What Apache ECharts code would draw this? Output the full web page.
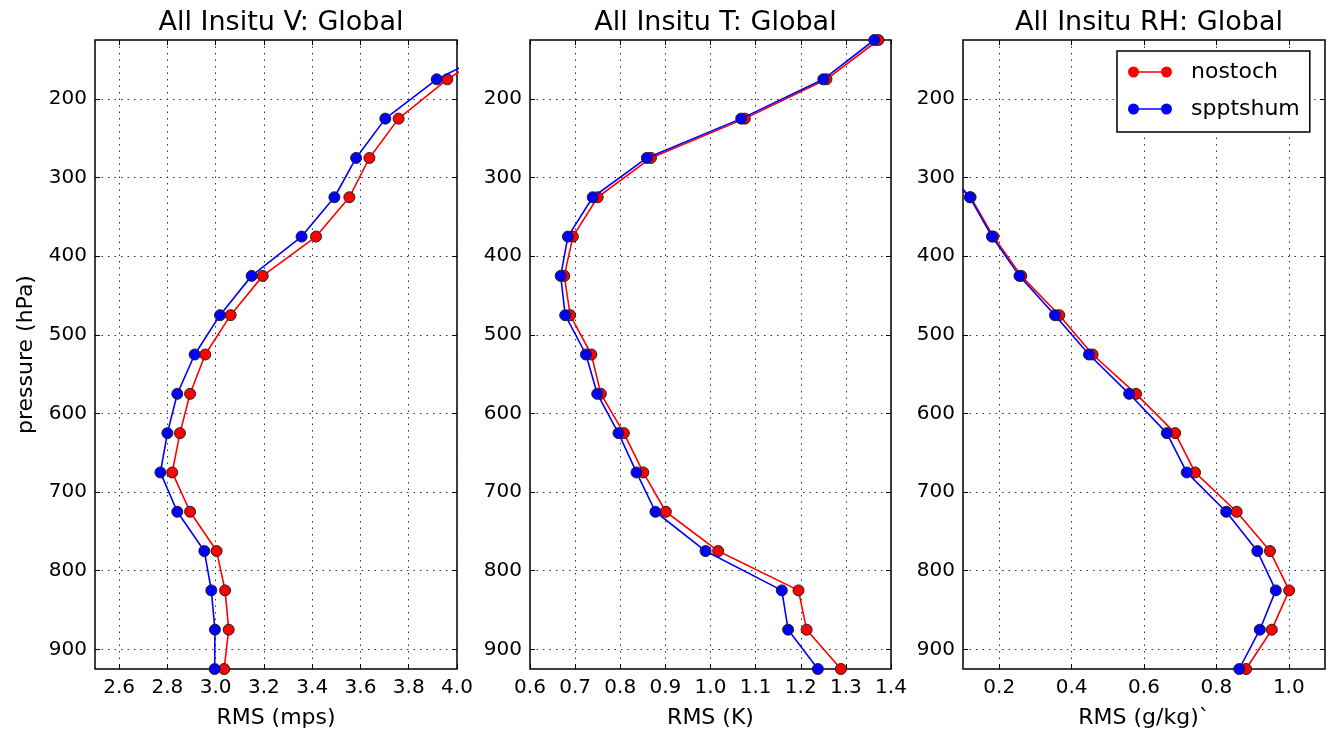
<!DOCTYPE html>
<html>
<head>
<meta charset="utf-8">
<script src="https://cdn.jsdelivr.net/npm/echarts@6/dist/echarts.min.js"></script>
<style>
html,body{margin:0;padding:0;background:#fff;}
#chart{width:1327px;height:737px;}
</style>
</head>
<body>
<div id="chart"></div>
<script>
// ---- data ----
const levels = [125, 175, 225, 275, 325, 375, 425, 475, 525, 575, 625, 675, 725, 775, 825, 875, 925];
const yTicks = [200, 300, 400, 500, 600, 700, 800, 900];

const titles = ['All Insitu V: Global', 'All Insitu T: Global', 'All Insitu RH: Global'];
const xNames = ['RMS (mps)', 'RMS (K)', 'RMS (g/kg)`'];
const seriesNames = ['nostoch', 'spptshum'];

const vNostoch  = [4.22, 3.960, 3.758, 3.637, 3.554, 3.416, 3.195, 3.062, 2.957, 2.894, 2.852, 2.820, 2.894, 3.004, 3.039, 3.054, 3.035];
const vSpptshum = [4.24, 3.916, 3.703, 3.582, 3.492, 3.356, 3.149, 3.018, 2.913, 2.841, 2.800, 2.771, 2.841, 2.953, 2.982, 2.997, 2.996];

const tNostoch  = [1.372, 1.257, 1.076, 0.868, 0.750, 0.695, 0.676, 0.689, 0.736, 0.757, 0.808, 0.851, 0.901, 1.017, 1.195, 1.213, 1.289];
const tSpptshum = [1.363, 1.250, 1.068, 0.859, 0.739, 0.684, 0.668, 0.678, 0.724, 0.749, 0.796, 0.836, 0.878, 0.989, 1.158, 1.172, 1.238];

const rhNostoch  = [null, null, null, 0.020, 0.121, 0.184, 0.261, 0.366, 0.458, 0.578, 0.686, 0.741, 0.856, 0.948, 1.001, 0.953, 0.882];
const rhSpptshum = [null, null, null, 0.015, 0.119, 0.180, 0.256, 0.354, 0.448, 0.559, 0.663, 0.718, 0.827, 0.913, 0.964, 0.920, 0.863];

const xMin = [2.5, 0.6, 0.1];
const xMax = [4.0, 1.4, 1.1];
const xTicksV  = [2.6, 2.8, 3.0, 3.2, 3.4, 3.6, 3.8, 4.0];
const xTicksT  = [0.6, 0.7, 0.8, 0.9, 1.0, 1.1, 1.2, 1.3, 1.4];
const xTicksRH = [0.2, 0.4, 0.6, 0.8, 1.0];
const xTicks = [xTicksV, xTicksT, xTicksRH];

const panelData = [[vNostoch, vSpptshum], [tNostoch, tSpptshum], [rhNostoch, rhSpptshum]];
const colors = ['#ff0000', '#0000ff'];

// ---- layout ----
const FONT = 'DejaVu Sans';
const grids = [
  {left: 95, top: 40, width: 362, height: 629},
  {left: 530, top: 40, width: 361, height: 629},
  {left: 963, top: 40, width: 362, height: 629}
];

const dotted = {color: '#333', width: 1, type: [1.5, 5]};

const option = {
  backgroundColor: '#fff',
  animation: false,
  title: titles.map((t, i) => ({
    text: t,
    left: grids[i].left + grids[i].width / 2,
    top: 4,
    textAlign: 'center',
    textStyle: {fontFamily: FONT, fontSize: 27, fontWeight: 'normal', color: '#000'}
  })),
  grid: grids.map(g => Object.assign({show: true, borderColor: '#000', borderWidth: 1.5, backgroundColor: 'transparent'}, g)),
  xAxis: [],
  yAxis: [],
  series: [],
  legend: {
    orient: 'vertical',
    left: 1117,
    top: 51,
    padding: [8, 10, 10, 11],
    itemGap: 11,
    itemWidth: 44,
    itemHeight: 11,
    borderColor: '#000',
    borderWidth: 1.5,
    backgroundColor: '#fff',
    borderRadius: 0,
    icon: 'path://M0,5.5A5.5,5.5,0,1,1,11,5.5A5.5,5.5,0,1,1,0,5.5ZM5.5,4.7L38.5,4.7L38.5,6.3L5.5,6.3ZM33,5.5A5.5,5.5,0,1,1,44,5.5A5.5,5.5,0,1,1,33,5.5Z',
    itemStyle: {borderWidth: 0},
    textStyle: {fontFamily: FONT, fontSize: 22, color: '#000', lineHeight: 26, padding: [0, 0, 0, 14]},
    data: seriesNames
  }
};

for (let i = 0; i < 3; i++) {
  option.xAxis.push({
    type: 'value', gridIndex: i, position: 'bottom',
    min: xMin[i], max: xMax[i],
    name: xNames[i], nameLocation: 'middle', nameGap: 38,
    nameTextStyle: {fontFamily: FONT, fontSize: 22, color: '#000'},
    axisLine: {show: false},
    axisTick: {show: true, inside: true, length: 5, customValues: xTicks[i], lineStyle: {color: '#000', width: 1}},
    axisLabel: {show: true, customValues: xTicks[i], margin: 9, fontFamily: FONT, fontSize: 20, color: '#000',
                formatter: v => Number(v).toFixed(1)},
    splitLine: {show: true, lineStyle: dotted}
  });
  option.xAxis.push({
    type: 'value', gridIndex: i, position: 'top',
    min: xMin[i], max: xMax[i],
    axisLine: {show: false},
    axisTick: {show: true, inside: true, length: 5, customValues: xTicks[i], lineStyle: {color: '#000', width: 1}},
    axisLabel: {show: false},
    splitLine: {show: false}
  });
  option.yAxis.push({
    type: 'value', gridIndex: i, position: 'left', inverse: true,
    min: 125, max: 925,
    name: i === 0 ? 'pressure (hPa)' : '', nameLocation: 'middle', nameGap: 58, nameRotate: 90,
    nameTextStyle: {fontFamily: FONT, fontSize: 22, color: '#000'},
    axisLine: {show: false},
    axisTick: {show: true, inside: true, length: 5, customValues: yTicks, lineStyle: {color: '#000', width: 1}},
    axisLabel: {show: true, customValues: yTicks, margin: 8, fontFamily: FONT, fontSize: 20, color: '#000'},
    splitLine: {show: true, lineStyle: dotted}
  });
  option.yAxis.push({
    type: 'value', gridIndex: i, position: 'right', inverse: true,
    min: 125, max: 925,
    axisLine: {show: false},
    axisTick: {show: true, inside: true, length: 5, customValues: yTicks, lineStyle: {color: '#000', width: 1}},
    axisLabel: {show: false},
    splitLine: {show: false}
  });
  for (let s = 0; s < 2; s++) {
    const vals = panelData[i][s];
    const data = [];
    for (let k = 0; k < levels.length; k++) {
      if (vals[k] !== null) data.push([vals[k], levels[k]]);
    }
    option.series.push({
      name: seriesNames[s],
      type: 'line',
      xAxisIndex: i * 2,
      yAxisIndex: i * 2,
      data: data,
      symbol: 'circle',
      symbolSize: 11,
      clip: true,
      z: 2 + s,
      itemStyle: {color: colors[s], borderColor: '#222', borderWidth: 1},
      lineStyle: {color: colors[s], width: 1.6},
      emphasis: {disabled: true}
    });
  }
}

const chart = echarts.init(document.getElementById('chart'), null, {renderer: 'canvas'});
chart.setOption(option);
</script>
</body>
</html>
